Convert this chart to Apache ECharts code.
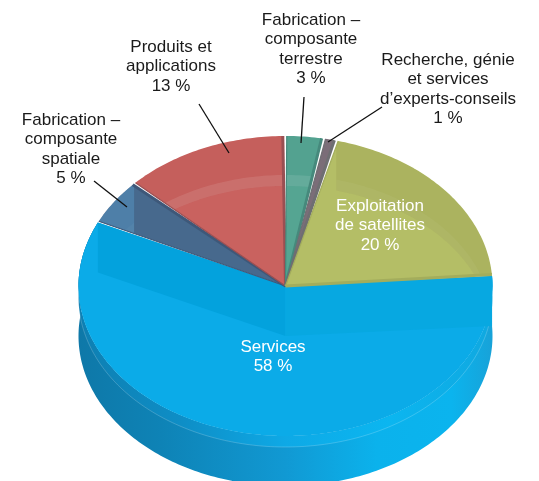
<!DOCTYPE html>
<html>
<head>
<meta charset="utf-8">
<script src="https://cdn.jsdelivr.net/npm/echarts@6/dist/echarts.min.js"></script>
<style>
  html, body { margin: 0; padding: 0; background: #fff; }
  #chart { width: 539px; height: 481px; }
</style>
</head>
<body>
<div id="chart"></div>
<script>
// clockwise from the right edge of the pie
const categories = [
  'Services',
  'Fabrication –\ncomposante\nspatiale',
  'Produits et\napplications',
  'Fabrication –\ncomposante\nterrestre',
  'Recherche, génie\net services\nd’experts-conseils',
  'Exploitation\nde satellites'
]
const values = [58, 5, 13, 3, 1, 20]

const faceColors = ['#0BABE8', '#47698D', '#C9625F', '#55A592', '#7B6D78', '#B4BE66']
const edgeColors = ['#0BABE8', '#3E5879', '#9A4F52', '#46897C', '#6E6E72', '#A3AD5C']
const bandColors = [null, 'rgba(90,160,210,0.40)', 'rgba(150,60,70,0.08)', 'rgba(60,110,110,0.05)', null, 'rgba(120,110,60,0.14)']
const stripColors = [null, 'rgba(255,255,255,0.03)', 'rgba(255,255,255,0.10)', 'rgba(255,255,255,0.10)', null, 'rgba(255,255,255,0.04)']
const labelPos = [[273, 338], [71, 111], [171, 38], [311, 11], [448, 51], [380, 197]]
const labelColors = ['#fff', '#1a1a1a', '#1a1a1a', '#1a1a1a', '#1a1a1a', '#fff']
const leaders = [null, [[94, 181], [127, 207]], [[199, 104], [229, 153]], [[304, 97], [301, 143]], [[382, 107], [328, 142]], null]

const cx = 285.5
const cy = 286
const rx = 207
const ry = 150
const depth = 50
const bevel = 11
const startAngle = 3.8
const gap = 0.55

const total = values.reduce((a, b) => a + b, 0)
const pt = (deg, dy = 0) => {
  const r = deg * Math.PI / 180
  return [cx + rx * Math.cos(r), cy - ry * Math.sin(r) + dy]
}
const arc = (from, to, dy = 0) => {
  const n = Math.max(2, Math.ceil(Math.abs(to - from)))
  const pts = []
  for (let i = 0; i <= n; i++) pts.push(pt(from + (to - from) * i / n, dy))
  return pts
}
const sliceAngles = (i) => {
  let a = startAngle
  for (let k = 0; k < i; k++) a -= values[k] / total * 360
  return [a - values[i] / total * 360, a]
}

const renderSlice = (params, api) => {
  const i = params.dataIndex
  const [a0, a1] = sliceAngles(i)
  const children = []

  if (i === 0) {
    // a0 is below -200deg: the front wall runs from the left end round to the right end
    const wall = arc(a1 - 360, a1 - 360 + 208.8 - 208.8, 0)
    const rim = arc(a0, a1)
    const wallGrad = {
      type: 'linear', x: 78, y: 0, x2: 493, y2: 0, global: true,
      colorStops: [
        { offset: 0, color: '#0E78A8' },
        { offset: 0.2, color: '#0E83B6' },
        { offset: 0.5, color: '#1199D3' },
        { offset: 0.72, color: '#0BB2EC' },
        { offset: 0.9, color: '#0BB4EE' },
        { offset: 1, color: '#18A2D8' }
      ]
    }
    const bandGrad = {
      type: 'linear', x: 78, y: 0, x2: 493, y2: 0, global: true,
      colorStops: [
        { offset: 0, color: '#0E7FB2' },
        { offset: 0.25, color: '#0E8EC6' },
        { offset: 0.5, color: '#0EA9E6' },
        { offset: 0.75, color: '#0BB6F0' },
        { offset: 1, color: '#10A8E0' }
      ]
    }
    children.push({
      type: 'polygon',
      shape: { points: rim.concat(arc(a1, a0, depth)) },
      style: { fill: wallGrad }
    })
    children.push({
      type: 'polygon',
      shape: { points: rim.concat(arc(a1, a0, bevel)) },
      style: { fill: bandGrad }
    })
    children.push({
      type: 'polyline',
      shape: { points: arc(a0, a1, bevel) },
      style: { fill: null, stroke: 'rgba(255,255,255,0.28)', lineWidth: 0.7 }
    })
    children.push({
      type: 'polygon',
      shape: { points: [[cx, cy]].concat(rim) },
      style: { fill: faceColors[i] }
    })
    // back of the cut faces seen through the top
    const l = pt(a0)
    const r = pt(a1)
    children.push({
      type: 'polygon',
      shape: { points: [[cx, cy], l, [l[0], l[1] + depth], [cx, cy + depth]] },
      style: { fill: '#03A2DD' }
    })
    children.push({
      type: 'polygon',
      shape: { points: [[cx, cy], [cx, cy + depth], [r[0], r[1] + depth], r] },
      style: { fill: '#07A8E1' }
    })
    return { type: 'group', children }
  }

  const face = [[cx, cy]].concat(arc(a0 + gap, a1 - gap))
  const clip = { type: 'polygon', shape: { points: face } }

  children.push({ type: 'polygon', shape: { points: face }, style: { fill: faceColors[i] } })

  if (bandColors[i]) {
    children.push({
      type: 'polygon',
      clipPath: clip,
      shape: { points: arc(a0, a1).concat(arc(a1, a0, depth)) },
      style: { fill: bandColors[i] }
    })
    children.push({
      type: 'polygon',
      clipPath: clip,
      shape: { points: arc(a0, a1, depth - bevel).concat(arc(a1, a0, depth)) },
      style: { fill: stripColors[i] }
    })
  }

  // dark cut edge along the side that faces the viewer
  const e = pt(a1 - gap)
  const f = pt(a0 + gap)
  children.push({
    type: 'line',
    shape: { x1: cx, y1: cy, x2: f[0], y2: f[1] },
    style: { stroke: edgeColors[i], lineWidth: 3 }
  })
  children.push({
    type: 'line',
    shape: { x1: cx, y1: cy, x2: e[0], y2: e[1] },
    style: { stroke: edgeColors[i], lineWidth: 1.2 }
  })
  return { type: 'group', children }
}

const graphics = []
categories.forEach((name, i) => {
  if (leaders[i]) {
    graphics.push({
      type: 'polyline',
      z: 20,
      shape: { points: leaders[i] },
      style: { fill: null, stroke: '#111', lineWidth: 1.3 }
    })
  }
  graphics.push({
    type: 'text',
    z: 20,
    style: {
      text: name + '\n' + values[i] + ' %',
      x: labelPos[i][0],
      y: labelPos[i][1],
      align: 'center',
      verticalAlign: 'top',
      font: '17px "Liberation Sans", Arial, sans-serif',
      lineHeight: 19.2,
      fill: labelColors[i]
    }
  })
})

const chart = echarts.init(document.getElementById('chart'), null, { renderer: 'canvas' })
chart.setOption({
  animation: false,
  backgroundColor: '#fff',
  series: [
    {
      type: 'custom',
      coordinateSystem: 'none',
      data: values,
      renderItem: renderSlice,
      silent: true,
      clip: false
    }
  ],
  graphic: graphics
})
</script>
</body>
</html>
